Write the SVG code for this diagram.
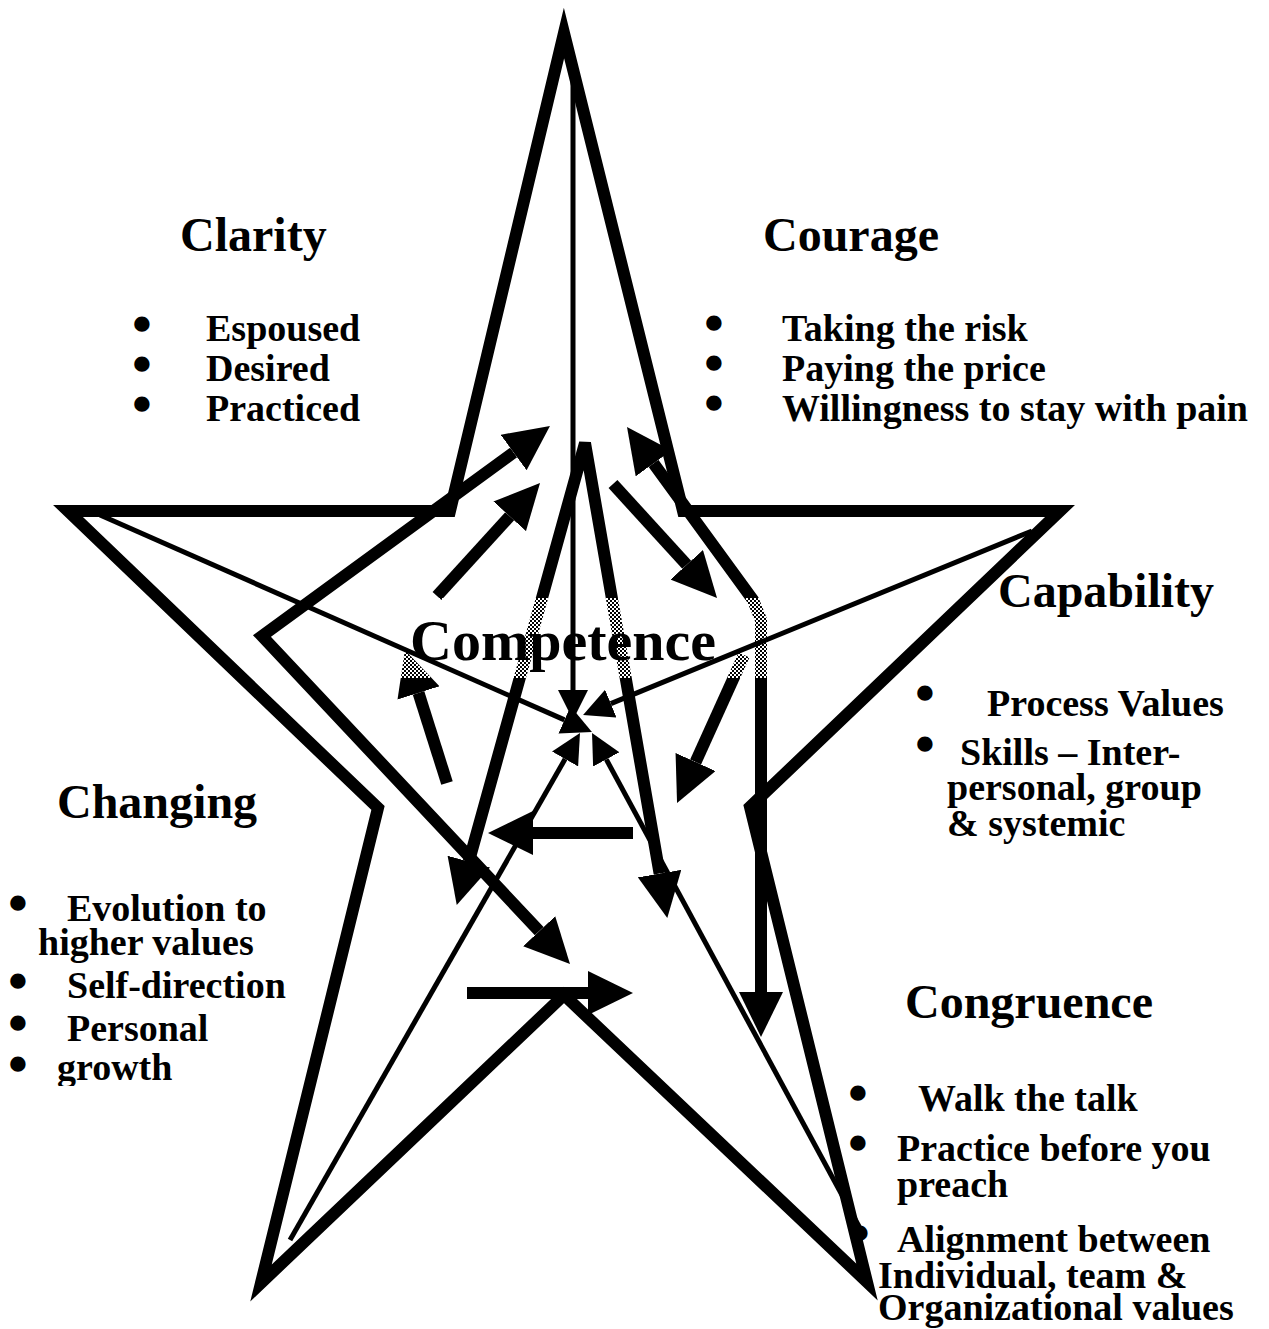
<svg xmlns="http://www.w3.org/2000/svg" width="1269" height="1329" viewBox="0 0 1269 1329">
  <defs>
    <style>
      .star { fill: none; stroke: #000; stroke-width: 12; stroke-linejoin: miter; stroke-miterlimit: 10; }
      .thick { fill: none; stroke: #000; stroke-width: 12; stroke-linejoin: miter; marker-end: url(#headThick); }
      .both { marker-start: url(#headThick); }
      .thin { fill: none; stroke: #000; stroke-width: 5; marker-end: url(#headThin); }
      text { font-family: "Liberation Serif", "Times New Roman", serif; font-weight: bold; fill: #000; }
      .title { font-size: 48px; }
      .center { font-size: 58px; }
      .item { font-size: 38px; }
      .bullet { font-size: 38px; text-anchor: middle; stroke: #000; stroke-width: 5; stroke-linejoin: round; }
    </style>
    <marker id="headThick" markerUnits="userSpaceOnUse" viewBox="0 0 45 44" markerWidth="45" markerHeight="44" refX="0" refY="22" orient="auto-start-reverse">
      <path d="M0,0 L45,22 L0,44 Z" fill="#000"/>
    </marker>
    <marker id="headThin" markerUnits="userSpaceOnUse" viewBox="0 0 30 30" markerWidth="30" markerHeight="30" refX="0" refY="15" orient="auto">
      <path d="M0,0 L30,15 L0,30 Z" fill="#000"/>
    </marker>
    <!-- dotted screen laid over the thick strokes behind the centre label -->
    <pattern id="screen" patternUnits="userSpaceOnUse" width="4" height="4">
      <rect x="0" y="0" width="2" height="2" fill="#fff"/>
      <rect x="2" y="2" width="2" height="2" fill="#fff"/>
    </pattern>
    <clipPath id="cutBottom">
      <rect x="0" y="0" width="400" height="1086"/>
    </clipPath>
  </defs>

  <rect width="1269" height="1329" fill="#fff"/>

  <!-- five-pointed star outline -->
  <g id="star">
    <polygon class="star" points="564,33 450,511 68,511 378,808 261,1283 564,995 867,1282 750,807 1060,511 683,511"/>
  </g>

  <g id="connectors">
    <!-- thick arrows -->
    <path class="thick both" d="M468.8,861.6 L585,443 L659.6,873.6"/>
    <path class="thick both" d="M513.6,452.5 L262,636 L539.2,931.2"/>
    <path class="thick" d="M437,596 L509.7,516.3"/>
    <path class="thick" d="M447,783 L418.5,692.9"/>
    <path class="thick" d="M613,484 L686.7,564.8"/>
    <path class="thick both" d="M653.5,463.4 L753,600 L761,620 L761,992"/>
    <path class="thick" d="M744,655 L695.6,762"/>
    <path class="thick" d="M633,833 L533,833"/>
    <path class="thick" d="M467,993 L588,993"/>

    <!-- screened band behind the centre label -->
    <rect x="396" y="598" width="374" height="80" fill="url(#screen)"/>

    <!-- thin spokes from the star points to the centre -->
    <path class="thin" d="M100,515 L564.5,719.9"/>
    <path class="thin" d="M1032,531 L610.8,703.6"/>
    <path class="thin" d="M573,75 L573,690"/>
    <path class="thin" d="M290,1240 L565.1,759"/>
    <path class="thin" d="M862,1232 L606.3,759.4"/>
  </g>

  <g id="competence">
    <text class="center" x="410" y="660">Competence</text>
  </g>

  <g id="clarity">
    <text class="title" x="180" y="251">Clarity</text>
    <text class="bullet" x="142" y="337">•</text>
    <text class="bullet" x="142" y="377">•</text>
    <text class="bullet" x="142" y="417">•</text>
    <text class="item" x="206" y="341">Espoused</text>
    <text class="item" x="206" y="381">Desired</text>
    <text class="item" x="206" y="421">Practiced</text>
  </g>

  <g id="courage">
    <text class="title" x="763" y="251">Courage</text>
    <text class="bullet" x="714" y="336">•</text>
    <text class="bullet" x="714" y="376">•</text>
    <text class="bullet" x="714" y="416">•</text>
    <text class="item" x="782" y="341">Taking the risk</text>
    <text class="item" x="782" y="381">Paying the price</text>
    <text class="item" x="782" y="421">Willingness to stay with pain</text>
  </g>

  <g id="capability">
    <text class="title" x="998" y="607">Capability</text>
    <text class="bullet" x="925" y="706">•</text>
    <text class="bullet" x="925" y="757">•</text>
    <text class="item" x="987" y="716">Process Values</text>
    <text class="item" x="960" y="765">Skills – Inter-</text>
    <text class="item" x="947" y="800">personal, group</text>
    <text class="item" x="947" y="836">&amp; systemic</text>
  </g>

  <g id="changing">
    <text class="title" x="57" y="818">Changing</text>
    <text class="bullet" x="18" y="916">•</text>
    <text class="bullet" x="18" y="994">•</text>
    <text class="bullet" x="18" y="1036">•</text>
    <text class="bullet" x="18" y="1077">•</text>
    <text class="item" x="67" y="921">Evolution to</text>
    <text class="item" x="38" y="955">higher values</text>
    <text class="item" x="67" y="998">Self-direction</text>
    <text class="item" x="67" y="1041">Personal</text>
    <text class="item" x="57" y="1080" clip-path="url(#cutBottom)">growth</text>
  </g>

  <g id="congruence">
    <text class="title" x="905" y="1018">Congruence</text>
    <text class="bullet" x="858" y="1106">•</text>
    <text class="bullet" x="858" y="1156">•</text>
    <text class="bullet" x="860" y="1246">•</text>
    <text class="item" x="918" y="1111">Walk the talk</text>
    <text class="item" x="897" y="1161">Practice before you</text>
    <text class="item" x="897" y="1197">preach</text>
    <text class="item" x="897" y="1252">Alignment between</text>
    <text class="item" x="878" y="1288">Individual, team &amp;</text>
    <text class="item" x="878" y="1320">Organizational values</text>
  </g>
</svg>
